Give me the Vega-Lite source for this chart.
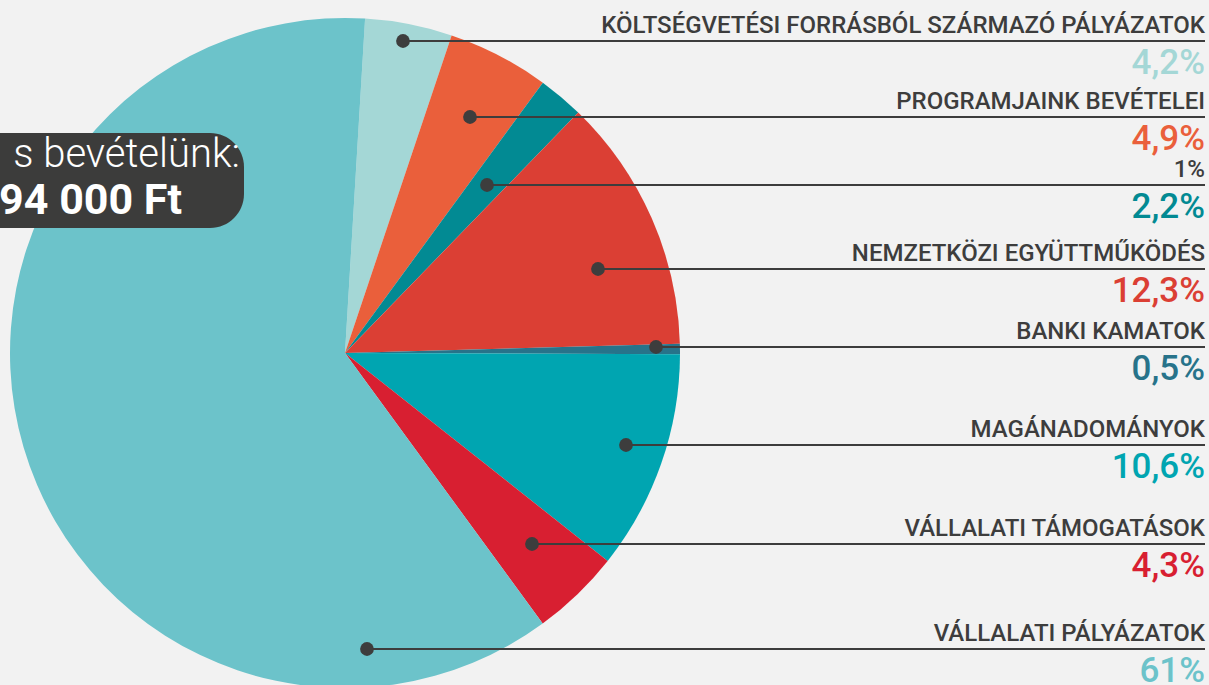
{
  "$schema": "https://vega.github.io/schema/vega-lite/v6.json",
  "width": 1209,
  "height": 685,
  "autosize": {"type": "none"},
  "padding": 0,
  "background": "#f2f2f2",
  "config": {"view": {"stroke": null}},
  "datasets": {
    "slices": [
      {"k": "KÖLTSÉGVETÉSI FORRÁSBÓL SZÁRMAZÓ PÁLYÁZATOK", "p": 4.2, "o": 1, "pl": "4,2%", "ly": 41, "dx": 403},
      {"k": "PROGRAMJAINK BEVÉTELEI", "p": 4.9, "o": 2, "pl": "4,9%", "ly": 117, "dx": 470},
      {"k": "1%", "p": 2.2, "o": 3, "pl": "2,2%", "ly": 185, "dx": 487},
      {"k": "NEMZETKÖZI EGYÜTTMŰKÖDÉS", "p": 12.3, "o": 4, "pl": "12,3%", "ly": 269, "dx": 598},
      {"k": "BANKI KAMATOK", "p": 0.5, "o": 5, "pl": "0,5%", "ly": 347, "dx": 656},
      {"k": "MAGÁNADOMÁNYOK", "p": 10.6, "o": 6, "pl": "10,6%", "ly": 445, "dx": 626},
      {"k": "VÁLLALATI TÁMOGATÁSOK", "p": 4.3, "o": 7, "pl": "4,3%", "ly": 544, "dx": 532},
      {"k": "VÁLLALATI PÁLYÁZATOK", "p": 61, "o": 8, "pl": "61%", "ly": 649, "dx": 367}
    ]
  },
  "resolve": {"scale": {"x": "shared", "y": "shared"}},
  "layer": [
    {
      "data": {"name": "slices"},
      "mark": {"type": "arc", "radius": 335},
      "encoding": {
        "x": {"datum": 345, "type": "quantitative", "scale": {"domain": [0, 1209], "nice": false, "zero": false}, "axis": null},
        "y": {"datum": 353, "type": "quantitative", "scale": {"domain": [0, 685], "nice": false, "zero": false, "reverse": true}, "axis": null},
        "theta": {"field": "p", "type": "quantitative", "stack": true, "scale": {"range": [0.06, 6.3432]}},
        "order": {"field": "o", "type": "quantitative"},
        "color": {
          "field": "k", "type": "nominal", "legend": null,
          "scale": {
            "domain": ["KÖLTSÉGVETÉSI FORRÁSBÓL SZÁRMAZÓ PÁLYÁZATOK", "PROGRAMJAINK BEVÉTELEI", "1%", "NEMZETKÖZI EGYÜTTMŰKÖDÉS", "BANKI KAMATOK", "MAGÁNADOMÁNYOK", "VÁLLALATI TÁMOGATÁSOK", "VÁLLALATI PÁLYÁZATOK"],
            "range": ["#a4d7d6", "#ea5f3b", "#028a93", "#db3f34", "#27738a", "#00a5b1", "#d81f31", "#6cc3ca"]
          }
        }
      }
    },
    {
      "data": {"name": "slices"},
      "mark": {"type": "rule", "color": "#3d3d3d", "strokeWidth": 2},
      "encoding": {
        "x": {"field": "dx", "type": "quantitative", "scale": {"domain": [0, 1209], "nice": false, "zero": false}, "axis": null},
        "x2": {"datum": 1205},
        "y": {"field": "ly", "type": "quantitative", "scale": {"domain": [0, 685], "nice": false, "zero": false, "reverse": true}, "axis": null}
      }
    },
    {
      "data": {"name": "slices"},
      "mark": {"type": "point", "filled": true, "opacity": 1, "color": "#3d3d3d", "size": 190},
      "encoding": {
        "x": {"field": "dx", "type": "quantitative", "scale": {"domain": [0, 1209], "nice": false, "zero": false}, "axis": null},
        "y": {"field": "ly", "type": "quantitative", "scale": {"domain": [0, 685], "nice": false, "zero": false, "reverse": true}, "axis": null}
      }
    },
    {
      "data": {"name": "slices"},
      "mark": {"type": "text", "align": "right", "baseline": "alphabetic", "dy": -8, "font": "Roboto", "fontSize": 24, "fontWeight": 500, "color": "#3d3d3d"},
      "encoding": {
        "x": {"datum": 1205, "type": "quantitative", "scale": {"domain": [0, 1209], "nice": false, "zero": false}, "axis": null},
        "y": {"field": "ly", "type": "quantitative", "scale": {"domain": [0, 685], "nice": false, "zero": false, "reverse": true}, "axis": null},
        "text": {"field": "k"}
      }
    },
    {
      "data": {"name": "slices"},
      "mark": {"type": "text", "align": "right", "baseline": "alphabetic", "dy": 33, "font": "Roboto", "fontSize": 35, "fontWeight": 500},
      "encoding": {
        "x": {"datum": 1205, "type": "quantitative", "scale": {"domain": [0, 1209], "nice": false, "zero": false}, "axis": null},
        "y": {"field": "ly", "type": "quantitative", "scale": {"domain": [0, 685], "nice": false, "zero": false, "reverse": true}, "axis": null},
        "text": {"field": "pl"},
        "color": {"field": "k", "type": "nominal", "legend": null}
      }
    },
    {
      "data": {"values": [{"a": 1}]},
      "mark": {"type": "rect", "color": "#3c3c3b", "cornerRadius": 34},
      "encoding": {
        "x": {"datum": -60, "type": "quantitative", "scale": {"domain": [0, 1209], "nice": false, "zero": false}, "axis": null},
        "x2": {"datum": 244},
        "y": {"datum": 133, "type": "quantitative", "scale": {"domain": [0, 685], "nice": false, "zero": false, "reverse": true}, "axis": null},
        "y2": {"datum": 228}
      }
    },
    {
      "data": {"values": [{"t": "s bevételünk:"}]},
      "mark": {"type": "text", "align": "right", "baseline": "alphabetic", "font": "Roboto", "fontSize": 40, "fontWeight": 300, "color": "#ffffff"},
      "encoding": {
        "x": {"datum": 240, "type": "quantitative", "scale": {"domain": [0, 1209], "nice": false, "zero": false}, "axis": null},
        "y": {"datum": 167, "type": "quantitative", "scale": {"domain": [0, 685], "nice": false, "zero": false, "reverse": true}, "axis": null},
        "text": {"field": "t"}
      }
    },
    {
      "data": {"values": [{"t": "94 000 Ft"}]},
      "mark": {"type": "text", "align": "right", "baseline": "alphabetic", "font": "Roboto", "fontSize": 43, "fontWeight": 700, "color": "#ffffff"},
      "encoding": {
        "x": {"datum": 182, "type": "quantitative", "scale": {"domain": [0, 1209], "nice": false, "zero": false}, "axis": null},
        "y": {"datum": 214, "type": "quantitative", "scale": {"domain": [0, 685], "nice": false, "zero": false, "reverse": true}, "axis": null},
        "text": {"field": "t"}
      }
    }
  ]
}
